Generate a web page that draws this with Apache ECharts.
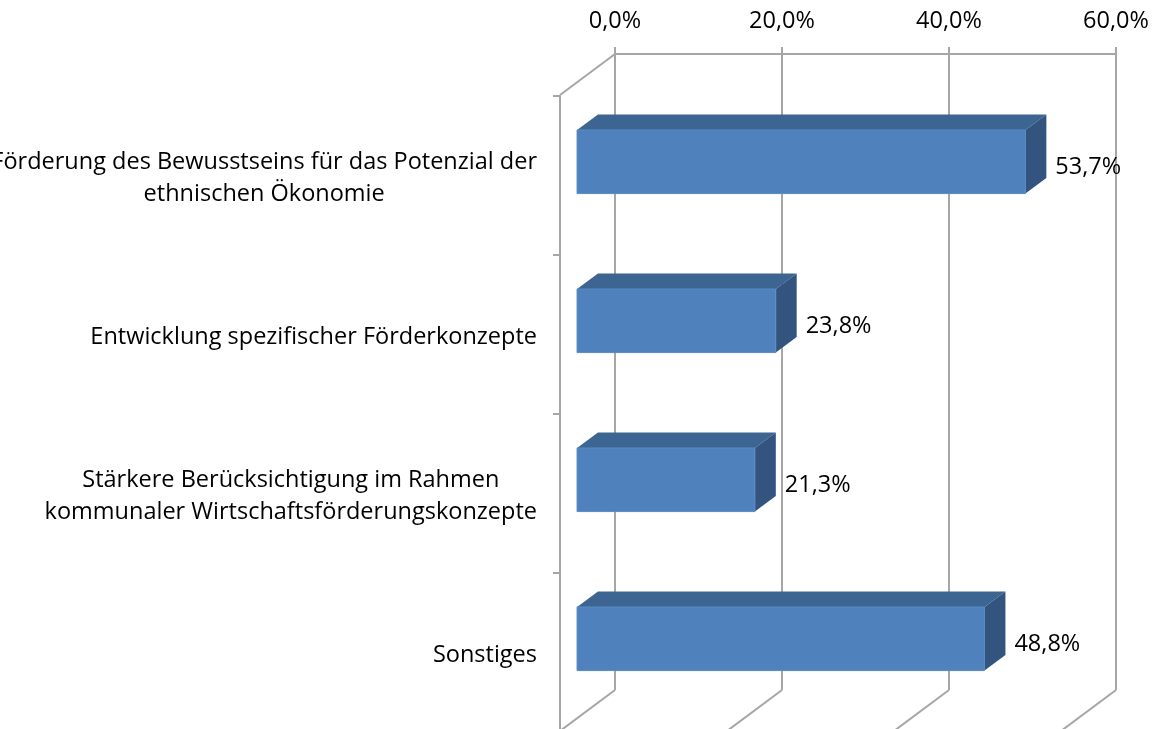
<!DOCTYPE html>
<html>
<head>
<meta charset="utf-8">
<script src="https://cdn.jsdelivr.net/npm/echarts@6/dist/echarts.min.js"></script>
<style>
  html, body { margin: 0; padding: 0; background: #fff; }
  #chart { width: 1154px; height: 729px; }
</style>
</head>
<body>
<div id="chart"></div>
<script>
var categories = [
  'Förderung des Bewusstseins für das Potenzial der\nethnischen Ökonomie',
  'Entwicklung spezifischer Förderkonzepte',
  'Stärkere Berücksichtigung im Rahmen\nkommunaler Wirtschaftsförderungskonzepte',
  'Sonstiges'
];
var values = [53.7, 23.8, 21.3, 48.8];
var ticks = [0, 20, 40, 60];

var FONT = 'Open Sans';
var FONT_SIZE = 23.5;
var GRID_COLOR = '#a6a6a6';
// depth of the 3d box (back wall -> front edge)
var DEPTH = [-55, 41];
var FRONT = 0.69, BACK = 0.31;

function fmt(v) {
  return v.toFixed(1).replace('.', ',') + '%';
}

var Chart = echarts.init(document.getElementById('chart'));

function renderBar(params, api) {
  var cat = api.value(0);
  var val = api.value(1);
  var p0 = api.coord([0, cat]);
  var p1 = api.coord([val, cat]);
  var band = api.size([0, 1])[1];
  var h = band * 0.4;
  var fx = DEPTH[0] * FRONT, fy = DEPTH[1] * FRONT;
  var bx = DEPTH[0] * BACK, by = DEPTH[1] * BACK;
  var yt = p0[1] - h / 2, yb = p0[1] + h / 2;
  var x0 = p0[0], x1 = p1[0];
  return {
    type: 'group',
    children: [
      {
        type: 'polygon',
        shape: { points: [[x0 + fx, yt + fy], [x1 + fx, yt + fy], [x1 + bx, yt + by], [x0 + bx, yt + by]] },
        style: { fill: '#3d6592' }
      },
      {
        type: 'polygon',
        shape: { points: [[x1 + fx, yt + fy], [x1 + bx, yt + by], [x1 + bx, yb + by], [x1 + fx, yb + fy]] },
        style: { fill: '#33547f' }
      },
      {
        type: 'rect',
        shape: { x: x0 + fx, y: yt + fy, width: x1 - x0, height: h },
        style: { fill: '#4f81bd', stroke: '#5a8ac4', lineWidth: 1 }
      },
      {
        type: 'text',
        x: x1 + bx + 9,
        y: p0[1] + fy + 6,
        style: {
          text: fmt(val),
          fill: '#000',
          font: FONT_SIZE + 'px "' + FONT + '"',
          verticalAlign: 'middle',
          align: 'left'
        }
      }
    ]
  };
}

// slanted edges of the floor wall
function renderEdge(params, api) {
  var cs = params.coordSys;
  var v = api.value(0);
  var x = api.coord([v, 0])[0];
  var yb = cs.y + cs.height;
  var lines = [{
    type: 'line',
    shape: { x1: x, y1: yb, x2: x + DEPTH[0], y2: yb + DEPTH[1] },
    style: { stroke: GRID_COLOR, lineWidth: 2 }
  }];
  if (v === 0) {
    lines.push({
      type: 'line',
      shape: { x1: x, y1: cs.y, x2: x + DEPTH[0], y2: cs.y + DEPTH[1] },
      style: { stroke: GRID_COLOR, lineWidth: 2 }
    });
  }
  return { type: 'group', children: lines };
}

var option = {
  backgroundColor: '#fff',
  animation: false,
  grid: [
    { left: 615, top: 54, width: 501, height: 636, outerBoundsMode: 'none' },
    { left: 615 + DEPTH[0], top: 55 + DEPTH[1], width: 501, height: 636, outerBoundsMode: 'none' }
  ],
  xAxis: [
    {
      type: 'value',
      gridIndex: 0,
      position: 'top',
      min: 0,
      max: 60,
      interval: 20,
      axisLine: { show: true, lineStyle: { color: GRID_COLOR, width: 2 } },
      axisTick: { show: true, length: 7, lineStyle: { color: GRID_COLOR, width: 2 } },
      splitLine: { show: true, lineStyle: { color: GRID_COLOR, width: 2 } },
      axisLabel: {
        margin: 21,
        color: '#000',
        fontFamily: FONT,
        fontSize: FONT_SIZE,
        formatter: function (v) { return fmt(v); }
      }
    },
    { type: 'value', gridIndex: 1, min: 0, max: 60, show: false }
  ],
  yAxis: [
    { type: 'category', gridIndex: 0, data: categories, inverse: true, show: false },
    {
      type: 'category',
      gridIndex: 1,
      data: categories,
      inverse: true,
      axisLine: { show: true, lineStyle: { color: GRID_COLOR, width: 2 } },
      axisTick: { show: true, length: 7, lineStyle: { color: GRID_COLOR, width: 2 } },
      axisLabel: {
        margin: 23,
        color: '#000',
        fontFamily: FONT,
        fontSize: FONT_SIZE,
        lineHeight: 32,
        align: 'right',
        padding: [5, 0, 0, 0],
        formatter: function (v) {
          return v.split('\n').map(function (s) { return '{c|' + s + '}'; }).join('\n');
        },
        rich: {
          c: { align: 'center', fontFamily: FONT, fontSize: FONT_SIZE, lineHeight: 32, color: '#000' }
        }
      }
    }
  ],
  series: [
    {
      type: 'custom',
      xAxisIndex: 0,
      yAxisIndex: 0,
      z: 1,
      data: ticks.map(function (t) { return [t]; }),
      renderItem: renderEdge
    },
    {
      type: 'custom',
      xAxisIndex: 0,
      yAxisIndex: 0,
      z: 5,
      data: values.map(function (v, i) { return [i, v]; }),
      encode: { x: 1, y: 0 },
      renderItem: renderBar
    }
  ]
};

Chart.setOption(option);
</script>
</body>
</html>
